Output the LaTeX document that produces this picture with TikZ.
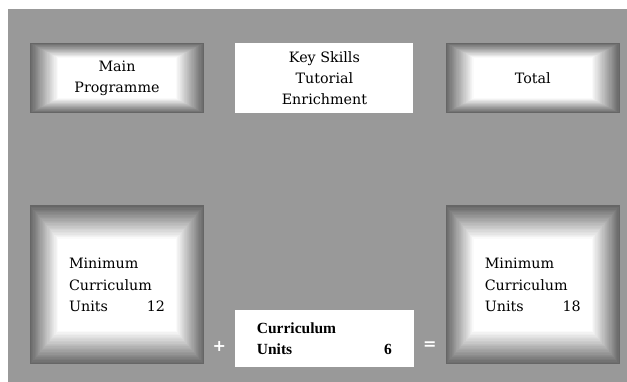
\documentclass[tikz,border=0pt]{standalone}
\usepackage{fontspec}
\setmainfont{DejaVu Serif}
\newfontfamily\heavyserif{Liberation Serif}
\newfontfamily\signfont{DejaVu Sans}
\usetikzlibrary{positioning,calc}

\begin{document}
\begin{tikzpicture}[x=1pt,y=1pt,
every node/.style={font=\fontsize{14.3}{21.3}\selectfont, inner sep=0pt},
bevelnode/.style={fill=white, path picture={
  \foreach \i in {0,...,24}{
    \pgfmathtruncatemacro\c{60*(1-\i/24)}
    \fill[black!\c] let \p1=(path picture bounding box.south west), \p2=(path picture bounding box.north east) in
      ({\x1+0.16*\i/24*(\x2-\x1)},{\y1+0.21*\i/24*(\y2-\y1)}) rectangle
      ({\x2-0.16*\i/24*(\x2-\x1)},{\y2-0.21*\i/24*(\y2-\y1)});
  }}},
widebox/.style={bevelnode, minimum width=174pt, minimum height=70pt, align=center},
tallbox/.style={bevelnode, minimum width=174pt, minimum height=159pt, text width=96pt, align=left},
plainbox/.style={fill=white, minimum height=70pt, minimum width=178pt, align=center},
signnode/.style={text=white, font=\signfont\bfseries\fontsize{16}{16}\selectfont},
]
%Background
\fill[white] (0,0) rectangle (627,382);
\fill[black!40] (8,0) rectangle (627,373);

%Nodes
\node[widebox]   (main)                      at (117,304) {Main\\Programme};
\node[plainbox]  (skills) [right=31pt of main]            {Key Skills\\Tutorial\\Enrichment};
\node[widebox]   (total)  [right=32pt of skills]          {Total};

\node[tallbox]   (minstart) [below=92pt of main]   {Minimum\\Curriculum\\Units\hfill 12};
\node[tallbox]   (minend)   [below=92pt of total]  {Minimum\\Curriculum\\Units\hfill 18};

\node[plainbox, minimum height=57pt, minimum width=179pt, text width=135pt, align=left,
      font=\heavyserif\bfseries\fontsize{15.5}{21}\selectfont]
                 (units)  [below=197pt of skills]  {Curriculum\\Units\hfill 6};

%Signs
\node[signnode]  (plus)   at ($(minstart.south east)!0.5!(units.south west)+(0,20)$)  {+};
\node[signnode]  (equals) at ($(units.south east)!0.5!(minend.south west)+(0,20)$)    {=};

\end{tikzpicture}
\end{document}
